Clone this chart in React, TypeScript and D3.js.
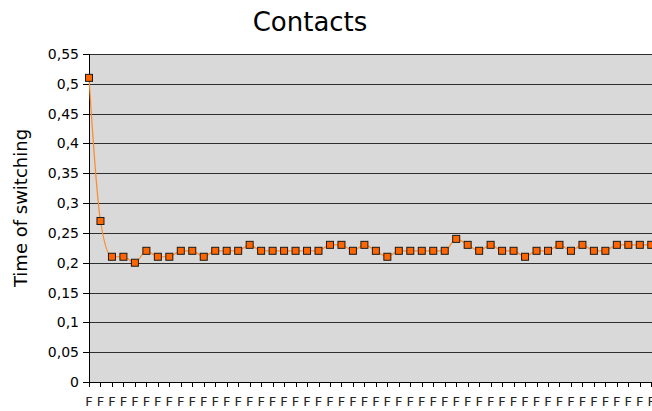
import React from "react";
import * as d3 from "d3";

// Switching time per contact run
const categories: string[] = Array.from({ length: 50 }, () => "F");
const switchingTimes: number[] = [
  0.51, 0.27, 0.21, 0.21, 0.2, 0.22, 0.21, 0.21, 0.22, 0.22,
  0.21, 0.22, 0.22, 0.22, 0.23, 0.22, 0.22, 0.22, 0.22, 0.22,
  0.22, 0.23, 0.23, 0.22, 0.23, 0.22, 0.21, 0.22, 0.22, 0.22,
  0.22, 0.22, 0.24, 0.23, 0.22, 0.23, 0.22, 0.22, 0.21, 0.22,
  0.22, 0.23, 0.22, 0.23, 0.22, 0.22, 0.23, 0.23, 0.23, 0.23,
];
const yTicks: number[] = [0, 0.05, 0.1, 0.15, 0.2, 0.25, 0.3, 0.35, 0.4, 0.45, 0.5, 0.55];

const W = 652;
const H = 411;
const plotLeft = 89;
const plotTop = 54;
const plotBottom = 382;
const step = 11.475;

const fmt = (v: number) => String(Math.round(v * 100) / 100).replace(".", ",");

export default function App() {
  const idx = categories.map((_, i) => i);
  const x = d3
    .scalePoint<number>()
    .domain(idx)
    .range([plotLeft, plotLeft + step * (idx.length - 1)]);
  const y = d3.scaleLinear().domain([0, 0.55]).range([plotBottom, plotTop]);

  const line = d3
    .line<number>()
    .x((_, i) => x(i) as number)
    .y((d) => y(d))
    .curve(d3.curveMonotoneX);

  const font = "'DejaVu Sans', sans-serif";
  const crisp = (v: number) => Math.round(v) + 0.5;

  return (
    <svg
      width={W}
      height={H}
      style={{ position: "absolute", left: 0, top: 0, background: "#fff" }}
      fontFamily={font}
    >
      <text x={310} y={31} textAnchor="middle" fontSize={26} fill="#000">
        Contacts
      </text>

      <text
        transform={`translate(27,208) rotate(-90)`}
        textAnchor="middle"
        fontSize={18}
        fill="#000"
      >
        Time of switching
      </text>

      <rect x={plotLeft} y={plotTop} width={W - plotLeft + 10} height={plotBottom - plotTop} fill="#d9d9d9" />

      {yTicks.map((t) => (
        <g key={t}>
          <line x1={plotLeft} x2={W + 10} y1={crisp(y(t))} y2={crisp(y(t))} stroke="#2e2e2e" strokeWidth={1.2} />
          <line x1={plotLeft - 6} x2={plotLeft} y1={crisp(y(t))} y2={crisp(y(t))} stroke="#000" />
          <text x={79} y={y(t)} dy="0.36em" textAnchor="end" fontSize={14} fill="#000">
            {fmt(t)}
          </text>
        </g>
      ))}

      <line x1={plotLeft + 0.5} x2={plotLeft + 0.5} y1={plotTop} y2={plotBottom + 5} stroke="#000" />
      <line x1={plotLeft} x2={W + 10} y1={crisp(plotBottom)} y2={crisp(plotBottom)} stroke="#000" />

      {idx.map((i) => (
        <g key={i}>
          <line x1={crisp(x(i) as number)} x2={crisp(x(i) as number)} y1={plotBottom} y2={plotBottom + 5} stroke="#000" />
          <text x={x(i) as number} y={406} textAnchor="middle" fontSize={13} fill="#222">
            {categories[i]}
          </text>
        </g>
      ))}

      <path d={line(switchingTimes) ?? ""} fill="none" stroke="#ff8a26" strokeWidth={1.2} />

      {switchingTimes.map((v, i) => (
        <rect
          key={i}
          x={(x(i) as number) - 3.5}
          y={y(v) - 3.5}
          width={7}
          height={7}
          fill="#ff6600"
          stroke="#1a1a1a"
          strokeWidth={1}
        />
      ))}
    </svg>
  );
}
